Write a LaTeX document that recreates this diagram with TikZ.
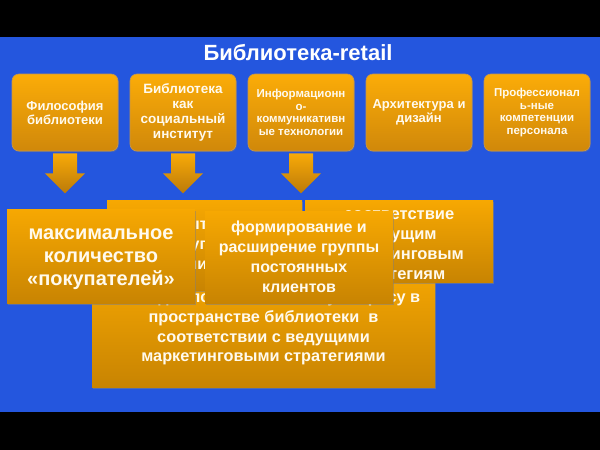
\documentclass[tikz,border=0pt]{standalone}
\usepackage{fontspec}
\setmainfont{Liberation Sans}
\usetikzlibrary{shadows}
\definecolor{slideblue}{RGB}{36,86,222}
\definecolor{ambertop}{RGB}{251,172,8}
\definecolor{amberbot}{RGB}{208,136,10}
\definecolor{amberline}{RGB}{196,150,80}
\definecolor{goaltop}{RGB}{247,168,2}
\definecolor{goalbot}{RGB}{200,132,2}
\definecolor{paletext}{RGB}{255,250,238}
\tikzstyle{topic}=[rectangle,rounded corners=7pt,top color=ambertop,bottom color=amberbot,draw=amberline,line width=0.6pt,minimum width=106pt,minimum height=77pt,inner sep=1pt,align=center,text=paletext,drop shadow={shadow xshift=0.8pt,shadow yshift=-1.2pt,opacity=0.35}]
\tikzstyle{goal}=[rectangle,top color=goaltop,bottom color=goalbot,inner sep=0pt,drop shadow={shadow xshift=1pt,shadow yshift=-1.8pt,opacity=0.55}]
\tikzstyle{goaltext}=[align=center,text=paletext,inner sep=0pt,font=\bfseries\fontsize{16}{20}\selectfont]
\tikzstyle{bigarrow}=[top color=ambertop,bottom color=amberbot!90!black]

\begin{document}
\begin{tikzpicture}[x=1pt,y=-1pt]
    % Slide background
    \fill[black] (0,0) rectangle (600,450);
    \fill[slideblue] (0,37) rectangle (600,412);
    \node[text=white,font=\bfseries\fontsize{22}{26}\selectfont] (title) at (298,53) {Библиотека-retail};

    % First we draw the five topics
    \foreach \x/\name/\fs/\ls/\txt in {65/phil/13/14/{Философия\\библиотеки}, 183/inst/13.5/15/{Библиотека\\как\\социальный\\институт}, 301/ict/11.5/12.6/{Информационн\\о-\\коммуникативн\\ые технологии}, 419/arch/13/14/{Архитектура и\\дизайн}, 537/staff/11.5/12.8/{Профессионал\\ь-ные\\компетенции\\персонала}}
        \node[topic,font=\bfseries\fontsize{\fs}{\ls}\selectfont] (\name) at (\x,112.5) {\txt};

    % Block arrows under the first three topics
    \foreach \src in {phil,inst,ict}
        \path[bigarrow] (\src.south) ++(-12,2) -- ++(0,20) -- ++(-8,0) -- ++(20,20) -- ++(20,-20) -- ++(-8,0) -- ++(0,-20) -- cycle;

    % Then the goals, back to front
    \node[goal,minimum width=343pt,minimum height=122pt,label={[goaltext,name=placetext,yshift=-3.5pt,font=\bfseries\fontsize{16.3}{19.6}\selectfont]center:{выкладка по читательскому запросу в\\пространстве библиотеки\ \ в\\соответствии с ведущими\\маркетинговыми стратегиями}}] (place) at (263.5,326) {};
    \node[goal,minimum width=195pt,minimum height=90pt,label={[goaltext,name=opentext]center:{открытость и\\доступность\\библиотеки}}] (open) at (204.5,245) {};
    \node[goal,minimum width=188pt,minimum height=82pt,label={[goaltext,name=matchtext,yshift=-6pt,font=\bfseries\fontsize{16.5}{20}\selectfont]center:{соответствие\\ведущим\\маркетинговым\\стратегиям}}] (match) at (399,241) {};
    \node[goal,minimum width=188pt,minimum height=94pt,label={[goaltext,name=buyerstext,yshift=-3.5pt,font=\bfseries\fontsize{20}{23}\selectfont]center:{максимальное\\количество\\«покупателей»}}] (buyers) at (101,256) {};
    \node[goal,minimum width=188pt,minimum height=92pt,label={[goaltext,name=clientstext]center:{формирование и\\расширение группы\\постоянных\\клиентов}}] (clients) at (299,257) {};
\end{tikzpicture}
\end{document}
